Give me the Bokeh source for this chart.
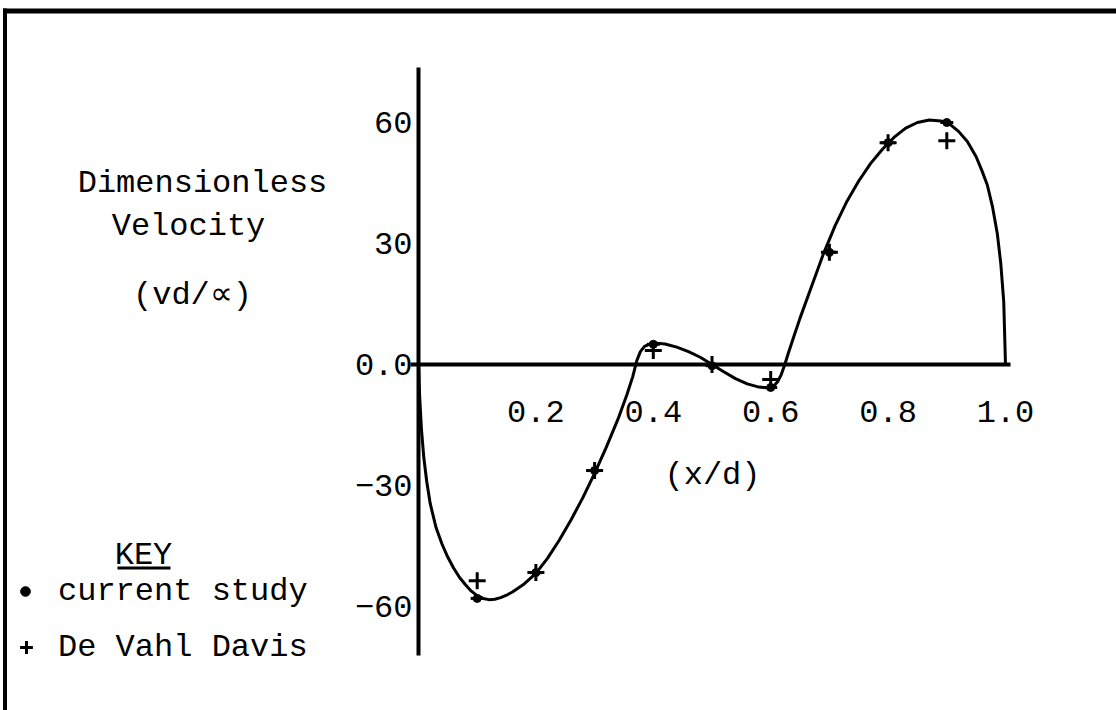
from bokeh.plotting import figure
from bokeh.models import (Range1d, LinearAxis, FixedTicker, Label, Legend,
                          LegendItem, BoxAnnotation)
from bokeh.embed import file_html
from bokeh.resources import INLINE

# ---------------- data ----------------
curve_x = [0.0, 0.002, 0.005, 0.009, 0.014, 0.02, 0.03, 0.04, 0.05, 0.06,
           0.07, 0.08, 0.09, 0.1, 0.11, 0.12, 0.13, 0.14, 0.15, 0.16,
           0.18, 0.2, 0.22, 0.24, 0.26, 0.28, 0.3, 0.32, 0.34, 0.355,
           0.365, 0.372, 0.378, 0.385, 0.395, 0.405, 0.42, 0.44, 0.46, 0.48,
           0.5, 0.52, 0.54, 0.56, 0.58, 0.595, 0.605, 0.612, 0.618, 0.624,
           0.63, 0.64, 0.65, 0.67, 0.69, 0.71, 0.73, 0.75, 0.77, 0.79,
           0.81, 0.83, 0.85, 0.87, 0.89, 0.905, 0.92, 0.935, 0.95, 0.96,
           0.969, 0.978, 0.986, 0.992, 0.997, 1.0]
curve_y = [0.0, -8.0, -16.0, -23.0, -29.0, -34.5, -40.5, -44.5, -47.8, -50.5,
           -52.8, -54.6, -56.2, -57.3, -58.0, -58.3, -58.2, -57.8, -57.2, -56.4,
           -54.4, -51.8, -48.0, -43.5, -38.5, -33.0, -27.0, -20.5, -13.5, -7.5,
           -3.0, 1.0, 3.2, 4.5, 5.1, 5.3, 5.1, 4.3, 3.2, 1.8,
           0.0, -1.8, -3.5, -4.8, -5.6, -5.8, -5.4, -4.2, -2.5, 0.0,
           2.8, 7.2, 11.5, 19.5, 27.5, 34.5, 40.5, 45.5, 49.8, 53.3,
           56.3, 58.6, 60.0, 60.6, 60.4, 59.6, 57.8, 55.3, 51.5, 48.0,
           44.5, 39.0, 32.5, 25.0, 15.5, 0.0]

x_pts = [0.1, 0.2, 0.3, 0.4, 0.5, 0.6, 0.7, 0.8, 0.9]
current_study = [-58.0, -51.6, -26.3, 5.0, -0.3, -5.7, 27.8, 55.0, 60.0]
de_vahl_davis = [-53.6, -51.6, -26.3, 3.5, 0.0, -3.7, 27.8, 55.0, 55.5]

x_ticks = [0.2, 0.4, 0.6, 0.8, 1.0]
x_tick_labels = ["0.2", "0.4", "0.6", "0.8", "1.0"]
y_ticks = [-60, -30, 0, 30, 60]
y_tick_labels = ["\u221260", "\u221230", "0.0", "30", "60"]

# ---------------- layout ----------------
W, H = 1116, 710
X0_PX, Y0_PX = 418.0, 364.0      # pixel of the origin
PX_PER_X = 587.0                  # pixels per unit x
PX_PER_Y = 121.0 / 30.0           # pixels per unit y


def xd(px):
    return (px - X0_PX) / PX_PER_X


def yd(py):
    return (Y0_PX - py) / PX_PER_Y


FONT = "Liberation Mono"
FS = "32px"
STYLE = "normal"

p = figure(width=W, height=H,
           x_range=Range1d(xd(0), xd(W)), y_range=Range1d(yd(H), yd(0)),
           output_backend="svg", toolbar_location=None,
           x_axis_location=None, y_axis_location=None, min_border=0)
p.outline_line_color = None
p.grid.visible = False
p.background_fill_color = "white"
p.border_fill_color = "white"

# axes crossing at the origin
xaxis = LinearAxis(fixed_location=0, ticker=FixedTicker(ticks=x_ticks),
                   major_label_overrides=dict(zip(x_ticks, x_tick_labels)),
                   bounds=(-0.014, 1.008))
yaxis = LinearAxis(fixed_location=0, ticker=FixedTicker(ticks=y_ticks),
                   major_label_overrides=dict(zip(y_ticks, y_tick_labels)),
                   bounds=(yd(655), yd(67)))
for ax, standoff in ((xaxis, 36), (yaxis, 6)):
    ax.axis_line_width = 4
    ax.axis_line_color = "black"
    ax.major_tick_line_color = None
    ax.minor_tick_line_color = None
    ax.major_tick_out = 0
    ax.major_tick_in = 0
    ax.major_label_standoff = standoff
    ax.major_label_text_font = FONT
    ax.major_label_text_font_size = FS
    ax.major_label_text_font_style = STYLE
    ax.major_label_text_color = "black"
p.add_layout(xaxis, "below")
p.add_layout(yaxis, "left")

# curve and points
p.line(curve_x, curve_y, line_color="black", line_width=3,
       line_join="round")
r_dash = p.scatter(x_pts, current_study, marker="dash", size=13,
                   line_color="black", line_width=3)
r_dot = p.scatter(x_pts, current_study, marker="circle", size=8,
                  fill_color="black", line_color="black")
r_cross = p.scatter(x_pts, de_vahl_davis, marker="cross", size=17,
                    line_color="black", line_width=3)

# frame lines (left and top border)
p.add_layout(BoxAnnotation(left=xd(2.5), right=xd(6.5), top=yd(8),
                           bottom=yd(H + 20), fill_color="black",
                           fill_alpha=1, line_color=None))
p.add_layout(BoxAnnotation(left=xd(2.5), right=xd(W + 20), top=yd(8),
                           bottom=yd(13), fill_color="black",
                           fill_alpha=1, line_color=None))


def add_text(txt, cx, cy):
    p.add_layout(Label(x=xd(cx), y=yd(cy), text=txt, text_align="center",
                       text_baseline="middle", text_font=FONT,
                       text_font_size=FS, text_font_style=STYLE,
                       text_color="black"))


add_text("Dimensionless", 202, 183)
add_text("Velocity", 188, 226)
add_text("(vd/\u221d)", 192, 295)
add_text("(x/d)", 712, 475)
add_text("KEY", 143, 555)
# underline of KEY
p.add_layout(BoxAnnotation(left=xd(117), right=xd(170), top=yd(566),
                           bottom=yd(569), fill_color="black", fill_alpha=1,
                           line_color=None))


def make_legend(label, renderers, glyph_w, left_px, center_py):
    gh = 40
    lg = Legend(items=[LegendItem(label=label, renderers=renderers)],
                location=(left_px, H - (center_py + gh / 2)),
                padding=0, margin=0, spacing=0,
                glyph_width=glyph_w, glyph_height=gh, label_height=gh,
                label_standoff=58 - left_px - glyph_w,
                label_text_font=FONT, label_text_font_size=FS,
                label_text_font_style=STYLE, label_text_color="black",
                border_line_color=None, background_fill_alpha=0)
    p.add_layout(lg)


make_legend("current study", [r_dash, r_dot], 24, 13, 591)
make_legend("De Vahl Davis", [r_cross], 32, 10, 647)

open("out.html", "w").write(file_html(p, INLINE))
